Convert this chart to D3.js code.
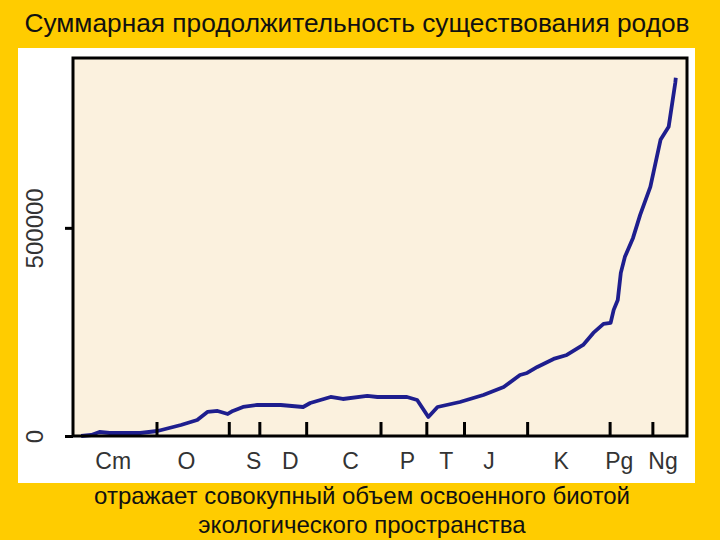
<!DOCTYPE html>
<html><head><meta charset="utf-8">
<script src="https://cdn.jsdelivr.net/npm/d3@7"></script>
<style>
html,body{margin:0;padding:0;background:#FFCC00;}
svg{display:block;}
</style></head>
<body>
<svg id="chart" width="720" height="540"></svg>
<script>
// Data: age (Ma) and cumulative genus duration
const agesMa = [584,574,566,556,526,509,486,470,460,450,440,435,425,411,398,388,366,359,339,327,303,293,264,254,243,234,212,189,169,153,146,136,120,107,91,81,71,64,61,57,54,50,42,35,25,15,7,0.5,0];
const totals = [0,2400,9600,7200,7200,12000,26400,38500,57700,60100,52900,60100,69700,74500,74500,74500,69700,79300,93700,88900,96200,93700,93700,86500,45700,69700,81700,98600,117800,146600,151400,165900,185100,194700,218700,247600,269200,271600,302900,326900,391800,430300,475900,531200,598500,711500,742800,848500,860600];
// Period boundaries (Ma) and period labels
const boundaries = [510,439,409,363,290,245,208,146,65,23];
const periodNames = ["Cm","O","S","D","C","P","T","J","K","Pg","Ng"];
const periodLabelAges = [553,481,415,379,320,264,226,184,113,56,13];
const yTicks = [0,500000];
const titleText = "Суммарная продолжительность существования родов";
const captionLines = ["отражает совокупный объем освоенного биотой","экологического пространства"];

const svg = d3.select("#chart");
const L=73, R=687, T=58, B=436;
const x = d3.scaleLinear().domain([592,-11]).range([L,R]);
const y = d3.scaleLinear().domain([0,908000]).range([B,T]);
const FONT = "Liberation Sans, Arial, sans-serif";

svg.append("rect").attr("x",0).attr("y",0).attr("width",720).attr("height",540).attr("fill","#FFCC00");
svg.append("rect").attr("x",18).attr("y",48).attr("width",677).attr("height",435).attr("fill","#ffffff");
svg.append("rect").attr("x",L).attr("y",T).attr("width",R-L).attr("height",B-T).attr("fill","#FBF1DE");

// line
const line = d3.line().x((d,i)=>x(agesMa[i])).y((d,i)=>y(totals[i]));
svg.append("path").datum(totals).attr("d",line).attr("fill","none")
  .attr("stroke","#1E1E8E").attr("stroke-width",3.8).attr("stroke-linejoin","round");

// box
svg.append("rect").attr("x",L).attr("y",T).attr("width",R-L).attr("height",B-T)
  .attr("fill","none").attr("stroke","#000").attr("stroke-width",3);

// y axis
const yAxis = d3.axisLeft(y).tickValues(yTicks).tickSize(8).tickSizeOuter(0).tickFormat(d3.format("d"));
const gy = svg.append("g").attr("transform",`translate(${L},0)`).call(yAxis);
gy.select(".domain").remove();
gy.selectAll(".tick line").attr("stroke","#000").attr("stroke-width",3);
gy.selectAll(".tick text")
  .attr("transform","translate(-38,0) rotate(-90)").attr("x",0).attr("y",0).attr("dy","0.35em")
  .attr("text-anchor","middle")
  .attr("font-family",FONT).attr("font-size",24).attr("fill","#333");

// x ticks (inward)
const xAxis = d3.axisBottom(x).tickValues(boundaries).tickSize(-14).tickSizeOuter(0).tickFormat("");
const gx = svg.append("g").attr("transform",`translate(0,${B})`).call(xAxis);
gx.select(".domain").remove();
gx.selectAll(".tick line").attr("stroke","#000").attr("stroke-width",3);

// period labels
const xLab = d3.axisBottom(x).tickValues(periodLabelAges).tickSize(0).tickFormat((d,i)=>periodNames[i]);
const gl = svg.append("g").attr("transform",`translate(0,${B})`).call(xLab);
gl.select(".domain").remove();
gl.selectAll(".tick text").attr("y",17).attr("dy","0.71em")
  .attr("font-family",FONT).attr("font-size",23).attr("fill","#333");

// title
svg.append("text").attr("x",357).attr("y",32).attr("text-anchor","middle")
  .attr("font-family",FONT).attr("font-size",26.3).attr("fill","#111")
  .text(titleText);
// caption
captionLines.forEach((t,i)=>{
  svg.append("text").attr("x",362).attr("y",504+i*29).attr("text-anchor","middle")
    .attr("font-family",FONT).attr("font-size",24).attr("fill","#111")
    .text(t);
});
</script>
</body></html>
